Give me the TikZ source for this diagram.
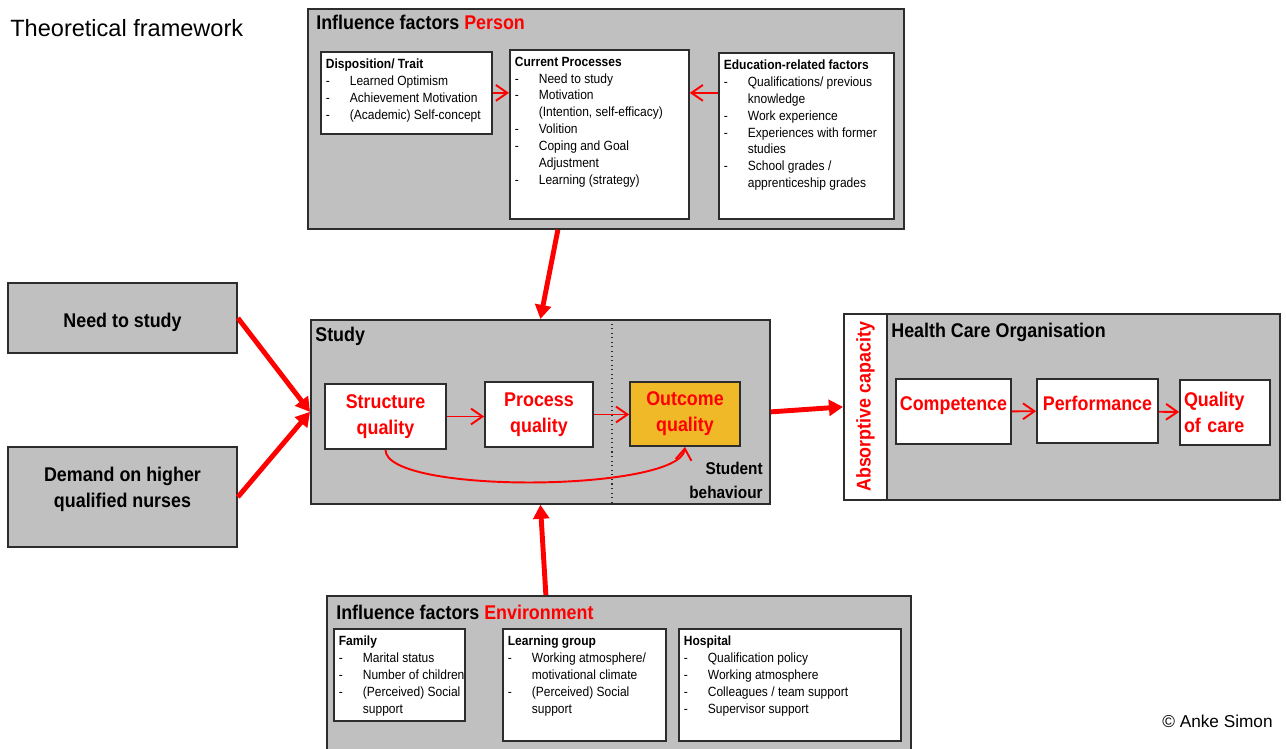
\documentclass[tikz,border=0pt]{standalone}
\usepackage{fontspec}
\setmainfont{Liberation Sans}
\newfontfamily\narrowfont{Liberation Sans}[FakeStretch=0.9]
\usepackage{graphicx}
\usetikzlibrary{arrows.meta,
                calc,
                positioning}

\newlength{\pxu}
\setlength{\pxu}{0.02cm}

\definecolor{panelgray}{RGB}{192,192,192}
\definecolor{boxline}{RGB}{45,45,45}
\definecolor{outcomegold}{RGB}{240,185,40}
\definecolor{linkred}{RGB}{255,0,0}

\newcommand\bigtxt{\narrowfont\bfseries\fontsize{11.3}{14.7}\selectfont}
\newcommand\midtxt{\narrowfont\bfseries\fontsize{9.7}{13.6}\selectfont}
\newcommand\smalltxt{\narrowfont\fontsize{7.6}{9.6}\selectfont}
\newcommand\facitem[1]{\par\noindent\makebox[24\pxu][l]{-}\mbox{#1}}
\newcommand\faccont[1]{\par\noindent\hspace*{24\pxu}\mbox{#1}}
\newcommand\facbox[3]{\parbox[t][#2\pxu][t]{#1\pxu}{\smalltxt\raggedright #3}}

\begin{document}
\begin{tikzpicture}[
    x=0.02cm, y=-0.02cm,
        panel/.style = {draw=boxline, line width=1pt, fill=panelgray, anchor=north west, inner sep=0pt},
        paneltitle/.style = {anchor=west, font=\bigtxt, inner sep=0pt},
        factor/.style = {draw=boxline, line width=1pt, fill=white, anchor=north west,
                        inner xsep=5\pxu, inner ysep=7\pxu},
        quality/.style = {draw=boxline, line width=1pt, fill=white, font=\bigtxt,
                        text=linkred, align=center, inner sep=0pt},
        driver/.style = {draw=boxline, line width=1pt, fill=panelgray, font=\bigtxt, align=center},
        thin link/.style = {draw=linkred, line width=1.1pt, -{Straight Barb[length=6.5pt, width=9pt]}},
        thick link/.style = {draw=linkred, line width=2.8pt, -{Triangle[length=8pt, width=9pt]}}
        ]
    \useasboundingbox (0,0) rectangle (1286,748);

    \node[anchor=west, font=\fontsize{13.4}{16}\selectfont, inner sep=0pt] (headline) at (10,28) {Theoretical framework};

    % Person
    \node[panel, minimum width=596\pxu, minimum height=220\pxu] (person) at (307,8) {};
    \node[paneltitle] (persontitle) at (316,22) {Influence factors \textcolor{linkred}{Person}};
    \node[factor] (disp) at (320,51) {\facbox{161}{68}{\textbf{Disposition/ Trait}
        \facitem{Learned Optimism}
        \facitem{Achievement Motivation}
        \facitem{(Academic) Self-concept}}};
    \node[factor] (curr) at (509,49) {\facbox{169}{155}{\textbf{Current Processes}
        \facitem{Need to study}
        \facitem{Motivation}
        \faccont{(Intention, self-efficacy)}
        \facitem{Volition}
        \facitem{Coping and Goal}
        \faccont{Adjustment}
        \facitem{Learning (strategy)}}};
    \node[factor] (edu) at (718,52) {\facbox{165}{152}{\textbf{Education-related factors}
        \facitem{Qualifications/ previous}
        \faccont{knowledge}
        \facitem{Work experience}
        \facitem{Experiences with former}
        \faccont{studies}
        \facitem{School grades /}
        \faccont{apprenticeship grades}}};

    % Drivers
    \node[driver, minimum width=229\pxu, minimum height=70\pxu, text height=13pt] (need) at (122.5,318) {Need to study};
    \node[driver, minimum width=229\pxu, minimum height=100\pxu, text depth=11pt] (demand) at (122.5,497) {Demand on higher\\qualified nurses};

    % Study
    \node[panel, minimum width=459\pxu, minimum height=184\pxu] (study) at (310,319) {};
    \node[paneltitle] (studytitle) at (315,336) {Study};
    \draw[boxline, dotted, line width=0.6pt] (612,319) -- (612,503);
    \node[quality, minimum width=121\pxu, minimum height=65\pxu] (struct) at (385.5,416.5) {Structure\\quality};
    \node[quality, minimum width=108\pxu, minimum height=65\pxu] (proc) at (539,414.5) {Process\\quality};
    \node[quality, fill=outcomegold, minimum width=110\pxu, minimum height=64\pxu] (outcome) at (685,414) {Outcome\\quality};
    \node[anchor=east, align=right, font=\midtxt, inner sep=0pt] (behav) at (763,480) {Student\\behaviour};

    % Health care organisation
    \node[panel, minimum width=393\pxu, minimum height=186\pxu] (health) at (886,313) {};
    \node[paneltitle] (healthtitle) at (891,332) {Health Care Organisation};
    \node[panel, fill=white, minimum width=43\pxu, minimum height=186\pxu, font=\bigtxt, text=linkred] (absorb) at (843,313) {\rotatebox{90}{Absorptive capacity}};
    \node[quality, minimum width=115\pxu, minimum height=65\pxu, text depth=9pt] (comp) at (953.5,411.5) {Competence};
    \node[quality, minimum width=121\pxu, minimum height=64\pxu, text depth=9pt] (perf) at (1097.5,411) {Performance};
    \node[quality, minimum width=90\pxu, minimum height=65\pxu, align=left, text width=82\pxu] (qoc) at (1225,412.5) {Quality\\of care};

    % Environment
    \node[panel, minimum width=584\pxu, minimum height=160\pxu] (env) at (326,595) {};
    \node[paneltitle] (envtitle) at (336,612) {Influence factors \textcolor{linkred}{Environment}};
    \node[factor] (family) at (333,628) {\facbox{121}{78}{\textbf{Family}
        \facitem{Marital status}
        \facitem{Number of children}
        \facitem{(Perceived) Social}
        \faccont{support}}};
    \node[factor] (lgroup) at (502,628) {\facbox{153}{98}{\textbf{Learning group}
        \facitem{Working atmosphere/}
        \faccont{motivational climate}
        \facitem{(Perceived) Social}
        \faccont{support}}};
    \node[factor] (hosp) at (678,628) {\facbox{212}{98}{\textbf{Hospital}
        \facitem{Qualification policy}
        \facitem{Working atmosphere}
        \facitem{Colleagues / team support}
        \facitem{Supervisor support}}};

    \node[anchor=east, font=\fontsize{9.8}{12}\selectfont, inner sep=0pt] (credit) at (1273,721) {\textcopyright{} Anke Simon};

    % links
    \draw[thin link] (disp.east) -- (disp.east -| curr.west);
    \draw[thin link] (edu.west |- disp.east) -- (curr.east |- disp.east);
    \draw[thin link] (struct.east) -- (struct.east -| proc.west);
    \draw[thin link] (proc.east) -- (proc.east -| outcome.west);
    \draw[thin link] (struct.south) .. controls +(0,45) and +(-5,45) .. (outcome.south);
    \draw[thin link] (comp) -- (perf);
    \draw[thin link] (perf) -- (qoc);

    \draw[thick link] ($(person.south)+(-48,0)$) -- (study.north);
    \draw[thick link] (need.east) -- (study.west);
    \draw[thick link] (demand.east) -- (study.west);
    \draw[thick link] ($(env.north)+(-73,0)$) -- (study.south);
    \draw[thick link] (study.east) -- (absorb.west);
\end{tikzpicture}
\end{document}
